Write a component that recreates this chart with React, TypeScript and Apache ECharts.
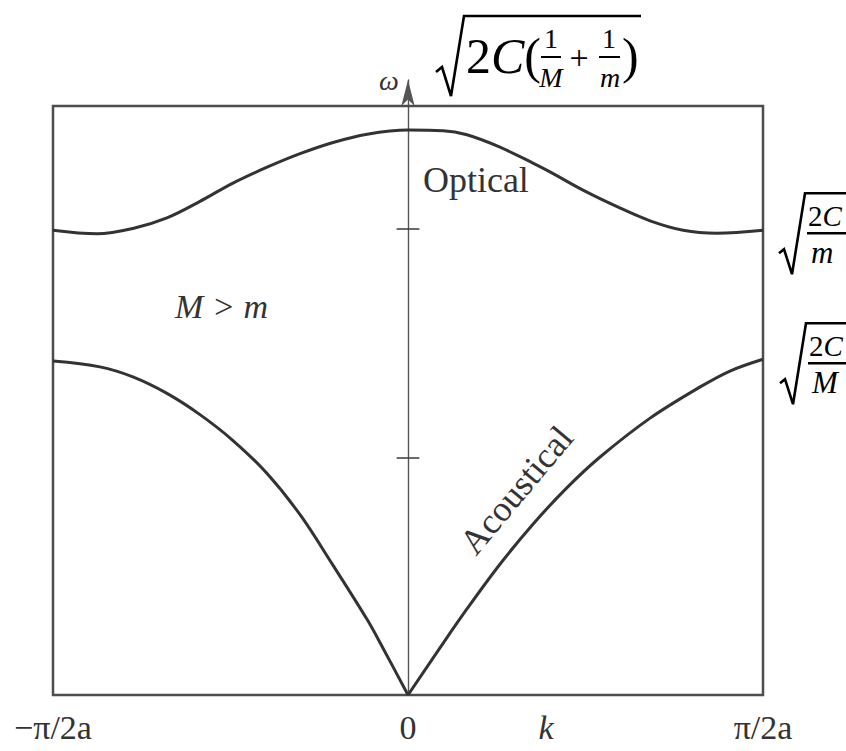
import React, { useEffect, useRef } from "react";
import * as echarts from "echarts";

// Wave number k in units of pi/2a, frequency omega in arbitrary units (zone box top = 100)
const kTicks = [-1, 0, 1];
const kTickLabels = ["−π/2a", "0", "π/2a"];

const opticalK = [-1, -0.876, -0.775, -0.679, -0.586, -0.493, -0.397, -0.304, -0.211, -0.115, 0, 0.099, 0.166, 0.259, 0.352, 0.4, 0.493, 0.589, 0.682, 0.775, 0.87, 1];
const opticalOmega = [78.9, 78.3, 79.2, 81.0, 83.8, 86.9, 89.6, 91.9, 93.8, 95.2, 95.9, 95.8, 95.1, 93.0, 90.3, 88.8, 85.7, 82.9, 80.5, 78.9, 78.4, 78.9];

const acousticLeftK = [-1, -0.868, -0.775, -0.679, -0.586, -0.493, -0.397, -0.304, -0.211, -0.115, -0.07, 0];
const acousticLeftOmega = [56.7, 55.7, 54.0, 51.2, 47.6, 43.2, 37.6, 30.6, 22.0, 12.8, 7.9, 0];

const acousticRightK = [0, 0.09, 0.166, 0.259, 0.352, 0.448, 0.541, 0.682, 0.823, 0.907, 1];
const acousticRightOmega = [0, 8.0, 14.6, 22.2, 29.0, 35.2, 40.4, 47.0, 52.3, 55.0, 57.0];

const frameK = [-1, 1];
const frameOmega = [0, 100];
const omegaAxisMax = 104.4;
const omegaTicks = [40.2, 79.1];

const zip = (xs: number[], ys: number[]) => xs.map((x, i) => [x, ys[i]]);

const SERIF = "'Liberation Serif', 'Times New Roman', serif";
const INK = "#333";

// square-root of a fraction 2C / denom, sitting at the right margin
function radical(x0: number, barY: number, denom: string): any[] {
  return [
    {
      type: "polyline",
      shape: { points: [[x0, barY + 20], [x0 + 5, barY + 16], [x0 + 13, barY + 41], [x0 + 26, barY - 40], [852, barY - 40]] },
      style: { stroke: "#000", lineWidth: 2.6, fill: null, lineJoin: "miter" },
    },
    {
      type: "text",
      x: x0 + 29,
      y: barY - 17,
      style: {
        text: "{n|2}{v|C}",
        textVerticalAlign: "middle",
        rich: {
          n: { font: `29px ${SERIF}`, fill: "#000" },
          v: { font: `italic 29px ${SERIF}`, fill: "#000" },
        },
      },
    },
    { type: "line", shape: { x1: x0 + 28, y1: barY, x2: 852, y2: barY }, style: { stroke: "#000", lineWidth: 2.6 } },
    {
      type: "text",
      x: x0 + 32,
      y: barY + 19,
      style: { text: denom, font: `italic 31px ${SERIF}`, fill: "#000", textVerticalAlign: "middle" },
    },
  ];
}

// sqrt(2C(1/M + 1/m)) above the frequency axis
function topFormula(): any[] {
  const t = (text: string, x: number, y: number, font: string, align = "center") => ({
    type: "text",
    x,
    y,
    style: { text, font, fill: "#000", textAlign: align, textVerticalAlign: "middle" },
  });
  return [
    {
      type: "polyline",
      shape: { points: [[436, 72], [442, 67], [451, 96], [464, 16], [641, 16]] },
      style: { stroke: "#000", lineWidth: 2.6, fill: null, lineJoin: "miter" },
    },
    {
      type: "text",
      x: 466,
      y: 56,
      style: {
        text: "{n|2}{v|C}{n|(}",
        textVerticalAlign: "middle",
        rich: {
          n: { font: `50px ${SERIF}`, fill: "#000" },
          v: { font: `italic 50px ${SERIF}`, fill: "#000" },
        },
      },
    },
    t("1", 551, 38, `28px ${SERIF}`),
    { type: "line", shape: { x1: 541, y1: 57, x2: 561, y2: 57 }, style: { stroke: "#000", lineWidth: 2 } },
    t("M", 551, 77, `italic 28px ${SERIF}`),
    t("+", 579, 57, `34px ${SERIF}`),
    t("1", 609, 38, `28px ${SERIF}`),
    { type: "line", shape: { x1: 599, y1: 57, x2: 620, y2: 57 }, style: { stroke: "#000", lineWidth: 2 } },
    t("m", 610, 77, `italic 28px ${SERIF}`),
    t(")", 622, 56, `50px ${SERIF}`, "left"),
  ];
}

export default function App() {
  const ref = useRef<HTMLDivElement>(null);

  useEffect(() => {
    if (!ref.current) return;
    const chart = echarts.init(ref.current, null, { renderer: "svg" });

    const curveLine = { color: INK, width: 3 };

    chart.setOption({
      animation: false,
      backgroundColor: "#fff",
      grid: { left: 53, right: 83, top: 80, bottom: 56 },
      xAxis: {
        type: "value",
        min: -1,
        max: 1,
        interval: 1,
        axisLine: { show: false },
        axisTick: { show: false },
        splitLine: { show: false },
        axisLabel: {
          showMinLabel: true,
          showMaxLabel: true,
          margin: 15,
          color: INK,
          fontFamily: "Liberation Serif",
          fontSize: 34,
          formatter: (v: number) => {
            const i = kTicks.indexOf(Math.round(v));
            return i >= 0 ? kTickLabels[i] : "";
          },
        },
      },
      yAxis: {
        type: "value",
        min: 0,
        max: omegaAxisMax,
        axisLine: {
          show: true,
          onZero: true,
          symbol: ["none", "arrow"],
          symbolSize: [10, 26],
          lineStyle: { color: "#555", width: 1.4 },
        },
        axisTick: { show: false },
        axisLabel: { show: false },
        splitLine: { show: false },
      },
      series: [
        {
          name: "Optical",
          type: "line",
          data: zip(opticalK, opticalOmega),
          smooth: 0.35,
          symbol: "none",
          lineStyle: curveLine,
          silent: true,
          markArea: {
            silent: true,
            label: { show: false },
            itemStyle: { color: "rgba(0,0,0,0)", borderColor: "#4d4d4d", borderWidth: 2.5 },
            data: [[{ coord: [frameK[0], frameOmega[0]] }, { coord: [frameK[1], frameOmega[1]] }]],
          },
          markLine: {
            silent: true,
            symbol: "none",
            label: { show: false },
            lineStyle: { color: "#444", width: 1.6, type: "solid" },
            data: omegaTicks.map((w) => [{ coord: [-0.032, w] }, { coord: [0.032, w] }]),
          },
        },
        {
          name: "Acoustical left",
          type: "line",
          data: zip(acousticLeftK, acousticLeftOmega),
          smooth: 0.35,
          symbol: "none",
          lineStyle: curveLine,
          silent: true,
        },
        {
          name: "Acoustical right",
          type: "line",
          data: zip(acousticRightK, acousticRightOmega),
          smooth: 0.35,
          symbol: "none",
          lineStyle: curveLine,
          silent: true,
        },
      ],
    });

    const px = (k: number, w: number) => chart.convertToPixel({ gridIndex: 0 }, [k, w]) as number[];
    const label = (text: string, k: number, w: number, font: string, align: string, rotation = 0) => {
      const [x, y] = px(k, w);
      return {
        type: "text",
        x,
        y,
        rotation,
        style: { text, font, fill: INK, textAlign: align, textVerticalAlign: "middle" },
      };
    };

    const optEdgeY = px(1, opticalOmega[opticalOmega.length - 1])[1];
    const acEdgeY = px(1, acousticRightOmega[acousticRightOmega.length - 1])[1];

    chart.setOption({
      graphic: [
        label("Optical", 0.042, 87.4, `36px ${SERIF}`, "left"),
        label("M > m", -0.656, 66.0, `italic 34px ${SERIF}`, "left"),
        label("Acoustical", 0.305, 34.8, `36px ${SERIF}`, "center", (50 * Math.PI) / 180),
        label("k", 0.389, -5.6, `italic 34px ${SERIF}`, "center"),
        label("ω", -0.054, 104.4, `italic 28px ${SERIF}`, "center"),
        ...topFormula(),
        ...radical(779, optEdgeY + 3, "m"),
        ...radical(780, acEdgeY + 4, "M"),
      ],
    });

    return () => chart.dispose();
  }, []);

  return (
    <div
      ref={ref}
      style={{ position: "fixed", left: 0, top: 0, width: 846, height: 751, background: "#fff" }}
    />
  );
}
